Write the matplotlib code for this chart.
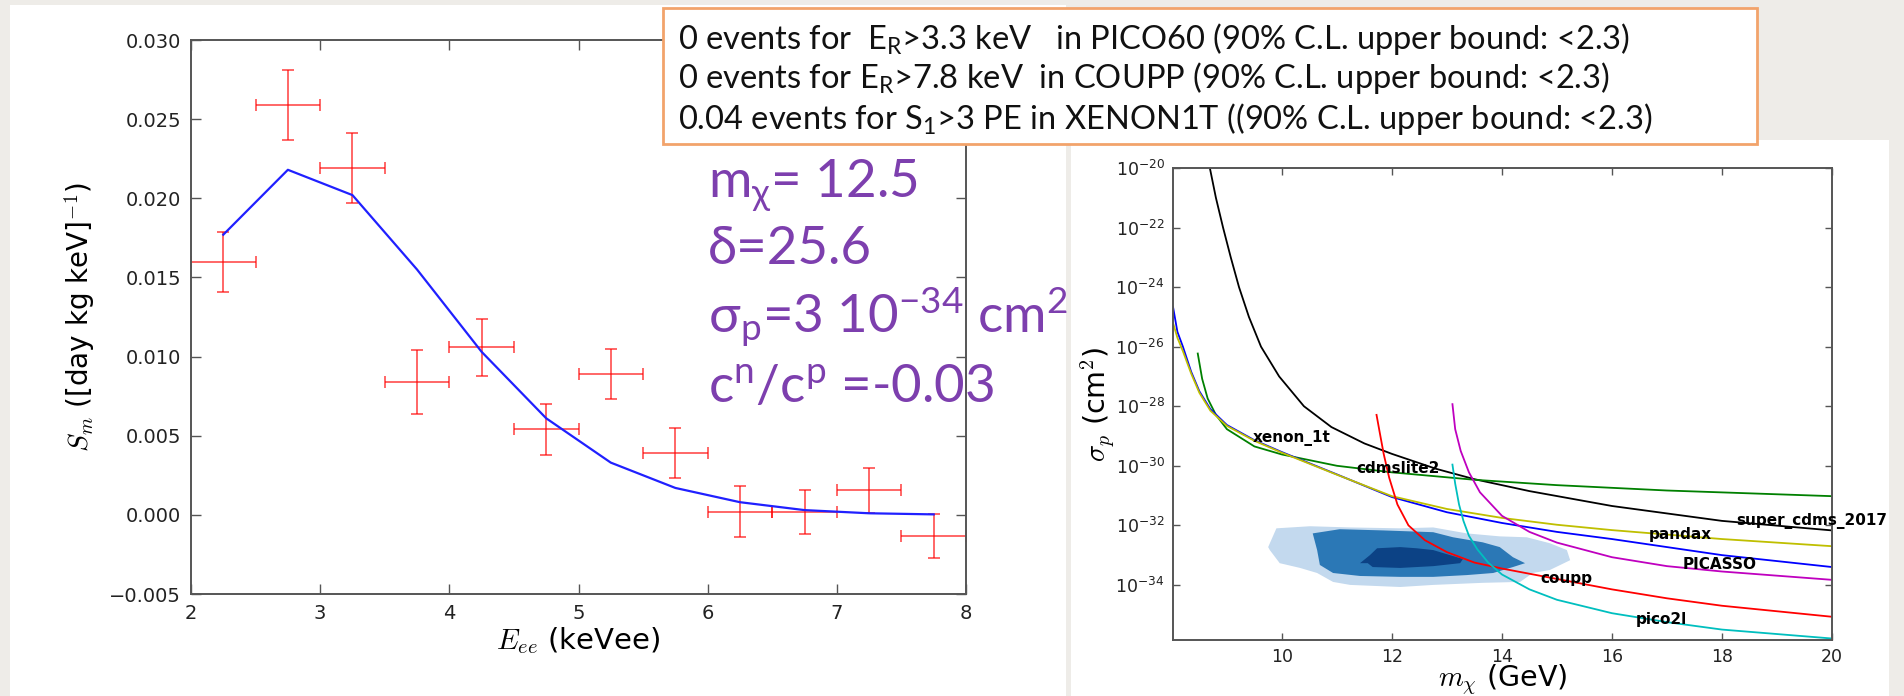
import matplotlib
matplotlib.use("Agg")
import matplotlib.pyplot as plt
import numpy as np
from matplotlib.patches import Rectangle
from matplotlib.ticker import MultipleLocator, FixedLocator, NullLocator

plt.rcParams['mathtext.fontset'] = 'cm'
plt.rcParams['font.family'] = ['DejaVu Sans']

# ---------------- data: left panel (modulation amplitude) ----------------
E_bins = [2.25, 2.75, 3.25, 3.75, 4.25, 4.75, 5.25, 5.75, 6.25, 6.75, 7.25, 7.75]
E_halfwidth = [0.25] * 12
Sm_obs = [0.0160, 0.0259, 0.0219, 0.0084, 0.0106, 0.0054, 0.0089, 0.0039, 0.0002, 0.0002, 0.00154, -0.00135]
Sm_err = [0.0019, 0.0022, 0.0022, 0.0020, 0.0018, 0.0016, 0.0016, 0.0016, 0.0016, 0.0014, 0.0014, 0.0014]
Sm_model = [0.0177, 0.0218, 0.0202, 0.0155, 0.0103, 0.0061, 0.0033, 0.0017, 0.0008, 0.0003, 0.0001, 0.00003]

# ---------------- data: right panel (exclusion limits, log10 sigma_p [cm^2]) ----------------
cdms17_m = [8.69, 8.8, 8.93, 9.07, 9.22, 9.4, 9.62, 9.95, 10.4, 10.9, 11.5, 12.0, 12.8, 13.5, 14.5, 16, 18, 20]
cdms17_s = [-20.0, -21.0, -22.0, -23.0, -24.0, -25.0, -26.0, -27.0, -28.0, -28.7, -29.25, -29.6, -30.1, -30.45,
            -30.85, -31.35, -31.85, -32.17]
cdmslite_m = [8.47, 8.55, 8.65, 8.8, 9.0, 9.5, 10, 11, 12, 13.5, 15, 17, 20]
cdmslite_s = [-26.23, -27.08, -27.74, -28.29, -28.77, -29.35, -29.62, -30.0, -30.22, -30.47, -30.65, -30.83, -31.02]
xenon_m = [8.02, 8.1, 8.2, 8.35, 8.5, 8.7, 9.0, 9.5, 10, 11, 12, 13, 14, 15, 16, 18, 20]
xenon_s = [-24.66, -25.5, -26.0, -26.84, -27.5, -28.1, -28.63, -29.14, -29.54, -30.29, -31.05, -31.56, -31.92, -32.22,
           -32.46, -33.0, -33.4]
pandax_m = [8.02, 8.1, 8.2, 8.35, 8.5, 8.7, 9.0, 9.5, 10, 11, 12, 13, 14, 15, 16, 18, 20]
pandax_s = [-25.2, -25.7, -26.15, -26.9, -27.55, -28.15, -28.66, -29.16, -29.56, -30.3, -31.02, -31.45, -31.75, -31.98,
            -32.16, -32.46, -32.7]
picasso_m = [13.1, 13.15, 13.25, 13.4, 13.6, 14.0, 14.5, 15, 16, 17, 18, 20]
picasso_s = [-27.93, -28.77, -29.5, -30.22, -30.89, -31.68, -32.22, -32.58, -33.07, -33.37, -33.55, -33.83]
coupp_m = [11.72, 11.78, 11.85, 11.95, 12.1, 12.3, 12.6, 13, 13.5, 14, 15, 16, 17, 18, 20]
coupp_s = [-28.29, -28.9, -29.6, -30.4, -31.3, -32.0, -32.5, -32.9, -33.25, -33.45, -33.8, -34.15, -34.45, -34.7, -35.07]
pico2l_m = [13.1, 13.15, 13.22, 13.3, 13.4, 13.55, 13.75, 14.0, 14.5, 15, 16, 17, 18, 20]
pico2l_s = [-29.96, -30.6, -31.3, -31.85, -32.35, -32.8, -33.25, -33.65, -34.15, -34.5, -34.95, -35.25, -35.5, -35.8]

# credible regions (outlines, m in GeV, log10 sigma_p)
cr_outer_m = [9.75, 9.9, 10.51, 11.24, 12.15, 12.75, 13.36, 13.96, 14.45, 14.87, 15.18, 15.24, 14.87, 14.56, 14.33,
              13.65, 12.75, 12.15, 11.24, 10.93, 10.64, 10.33, 9.96, 9.78]
cr_outer_s = [-32.73, -32.1, -32.03, -32.07, -32.1, -32.07, -32.27, -32.37, -32.4, -32.6, -32.83, -33.17, -33.5, -33.6,
              -33.9, -33.93, -34.0, -34.07, -34.0, -33.9, -33.6, -33.43, -33.27, -32.83]
cr_mid_m = [10.56, 11.05, 11.84, 12.75, 13.11, 13.65, 13.96, 14.2, 14.42, 14.2, 13.84, 13.36, 12.75, 12.15, 11.42,
            10.93, 10.69, 10.64]
cr_mid_s = [-32.27, -32.13, -32.17, -32.23, -32.4, -32.57, -32.73, -33.07, -33.27, -33.4, -33.6, -33.67, -33.73, -33.73,
            -33.7, -33.6, -33.33, -32.83]
cr_in_m = [11.42, 11.6, 11.73, 12.15, 12.45, 12.75, 13.11, 13.29, 13.24, 12.75, 12.15, 11.65, 11.56]
cr_in_s = [-33.27, -33.0, -32.77, -32.73, -32.77, -32.83, -33.03, -33.13, -33.27, -33.37, -33.43, -33.4, -33.27]

curve_labels = ["xenon_1t", "cdmslite2", "super_cdms_2017", "pandax", "PICASSO", "coupp", "pico2l"]
label_m = [9.47, 11.35, 18.26, 16.67, 17.28, 14.69, 16.44]
label_s = [-29.08, -30.1, -31.86, -32.31, -33.33, -33.77, -35.16]

box_lines = [r"0 events for  $\mathregular{E_R}$>3.3 keV   in PICO60 (90% C.L. upper bound: <2.3)",
             r"0 events for $\mathregular{E_R}$>7.8 keV  in COUPP (90% C.L. upper bound: <2.3)",
             r"0.04 events for $\mathregular{S_1}$>3 PE in XENON1T ((90% C.L. upper bound: <2.3)"]
param_lines = [r"m$\mathregular{_χ}$= 12.5",
               r"δ=25.6",
               r"σ$\mathregular{_p}$=3 10$\mathregular{^{-34}}$ cm$\mathregular{^2}$",
               r"c$\mathregular{^n}$/c$\mathregular{^p}$ =-0.03"]

# ---------------- figure ----------------
W, H = 1904, 696
BG = '#eeece8'
fig = plt.figure(figsize=(W / 100, H / 100), dpi=100, facecolor=BG)

def fx(px):
    return px / W

def fy(py):
    return 1 - py / H

def frect(x0, y0, x1, y1, **kw):
    r = Rectangle((fx(x0), fy(y1)), fx(x1) - fx(x0), fy(y0) - fy(y1), transform=fig.transFigure, **kw)
    fig.patches.append(r)
    return r

# white panels
frect(10, 5, 1066, 696, facecolor='white', edgecolor='none', zorder=-10)
frect(1071, 140, 1889, 696, facecolor='white', edgecolor='none', zorder=-10)

SPINE = '#555555'

def style_axes(ax, lsize, pad, length):
    for s in ax.spines.values():
        s.set_color(SPINE)
        s.set_linewidth(1.4)
    ax.tick_params(which='both', direction='in', top=True, right=True, length=length, width=1,
                   color=SPINE, labelcolor='#222222', labelsize=lsize, pad=pad)

# ---- left axes ----
ax1 = fig.add_axes([fx(191), fy(594), (966 - 191) / W, (594 - 40) / H])
ax1.errorbar(E_bins, Sm_obs, xerr=E_halfwidth, yerr=Sm_err, fmt='none', ecolor=(1, 0, 0, 0.6),
             elinewidth=1.4, capsize=4.3, capthick=1.4)
ax1.plot(E_bins, Sm_model, color='#2020ff', lw=1.6)
ax1.set_xlim(2, 8)
ax1.set_ylim(-0.005, 0.030)
ax1.xaxis.set_major_locator(MultipleLocator(1))
ax1.yaxis.set_major_locator(MultipleLocator(0.005))
style_axes(ax1, 14, 7, 7)
ax1.set_xlabel(r"$E_{ee}$ (keVee)", fontsize=21, va='center')
ax1.xaxis.set_label_coords(0.5, -(641 - 594) / 554)
ax1.set_ylabel(r"$S_m$ ([day kg keV]$^{-1}$)", fontsize=20, va='center')
ax1.yaxis.set_label_coords((80 - 191) / 775, 0.5)

# ---- right axes ----
ax2 = fig.add_axes([fx(1173), fy(640), (1832 - 1173) / W, (640 - 168) / H])
ax2.set_yscale('log')
ax2.fill(cr_outer_m, 10.0 ** np.array(cr_outer_s), color='#c3d9ee', lw=0, zorder=1)
ax2.fill(cr_mid_m, 10.0 ** np.array(cr_mid_s), color='#2b78b6', lw=0, zorder=1.1)
ax2.fill(cr_in_m, 10.0 ** np.array(cr_in_s), color='#0c4285', lw=0, zorder=1.2)
curves = [(cdms17_m, cdms17_s, 'k'), (cdmslite_m, cdmslite_s, (0, 0.5, 0)), (xenon_m, xenon_s, 'b'),
          (pandax_m, pandax_s, (0.75, 0.75, 0)), (picasso_m, picasso_s, (0.75, 0, 0.75)),
          (coupp_m, coupp_s, 'r'), (pico2l_m, pico2l_s, (0, 0.75, 0.75))]
for m, s, c in curves:
    ax2.plot(m, 10.0 ** np.array(s), color=c, lw=1.3, zorder=2)
for name, m, s in zip(curve_labels, label_m, label_s):
    ax2.text(m, 10.0 ** s, name, fontsize=11, fontweight='bold', va='center', ha='left', zorder=3)
ax2.set_xlim(8.02, 20)
ax2.set_ylim(10 ** -35.85, 1e-20)
ax2.xaxis.set_major_locator(MultipleLocator(2))
ax2.yaxis.set_major_locator(FixedLocator(10.0 ** np.arange(-34, -19, 2)))
ax2.yaxis.set_minor_locator(NullLocator())
style_axes(ax2, 12.5, 6, 5)
ax2.set_xlabel(r"$m_\chi$ (GeV)", fontsize=20.5, va='center')
ax2.xaxis.set_label_coords(0.5, -(680 - 640) / 472)
ax2.set_ylabel(r"$\sigma_p$ (cm$^2$)", fontsize=20.5, va='center')
ax2.yaxis.set_label_coords((1098 - 1173) / 659, 0.5)

# ---- text box ----
frect(663, 8, 1757, 144, facecolor='white', edgecolor='#f2a36b', lw=2, zorder=5)
for txt, yb in zip(box_lines, [49, 88, 129]):
    fig.text(fx(678), fy(yb), txt, fontsize=23.5, family=['Lato', 'DejaVu Sans'], color='#111111',
             va='baseline', ha='left', zorder=6)

# ---- parameter annotation ----
for txt, yb in zip(param_lines, [197, 264, 333, 402]):
    fig.text(fx(708), fy(yb), txt, fontsize=38, family=['Lato', 'DejaVu Sans'], color='#7d3fae',
             va='baseline', ha='left', zorder=4)

fig.savefig("out.png", dpi=100, facecolor=BG)
